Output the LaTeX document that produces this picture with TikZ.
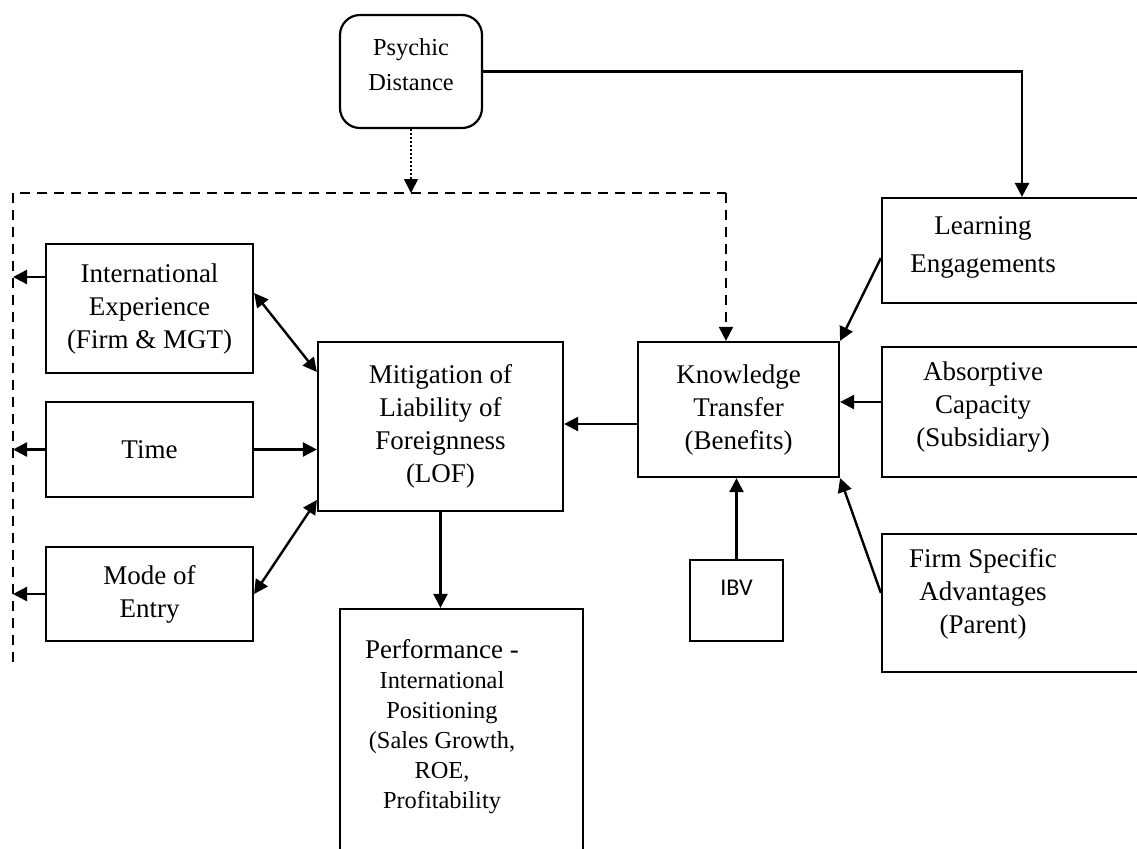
\documentclass[tikz,border=0pt]{standalone}
\usepackage{fontspec}
\setmainfont{Liberation Serif}
\newfontfamily\ibvfont{Carlito}
\usetikzlibrary{arrows.meta}
\tikzstyle{box} = [rectangle, draw, line width=1.1pt, align=center,
    font=\fontsize{13.5}{16.5}\selectfont]
\tikzstyle{leftbox} = [box, minimum width=103.5pt]
\tikzstyle{sidebox} = [box, minimum width=140pt]
\tikzstyle{roundbox} = [rectangle, draw, rounded corners=10pt, line width=1.1pt,
    minimum width=71pt, minimum height=56.5pt]
\tikzstyle{lbl} = [align=center, font=\fontsize{13.5}{16.5}\selectfont]
\tikzstyle{line} = [draw, line width=1.2pt, -{Triangle[length=7pt,width=7pt]}]
\tikzstyle{dline} = [line, {Triangle[length=7pt,width=7pt]}-{Triangle[length=7pt,width=7pt]}]
\tikzstyle{dashline} = [draw, line width=1pt, dash pattern=on 5pt off 3.5pt]
\tikzstyle{dotline} = [line, line width=0.9pt, dash pattern=on 0.8pt off 1.2pt]

\begin{document}
\begin{tikzpicture}[x=0.5pt, y=-0.5pt]
    \useasboundingbox (0,0) rectangle (1137,848);
    % Place nodes
    \node [roundbox,
        label={[lbl, font=\fontsize{12.2}{17.5}\selectfont, yshift=3.5pt]center:Psychic\\Distance}] (psy) at (411,71.5) {};
    \node [leftbox, minimum height=64.5pt] (ie) at (149.5,308.5) {International\\Experience\\(Firm \& MGT)};
    \node [leftbox, minimum height=47.5pt, below of=ie, node distance=70.5pt] (time) {Time};
    \node [leftbox, minimum height=47pt, below of=time, node distance=72.25pt] (mode) {Mode of\\Entry};
    \node [box, minimum width=122.5pt, minimum height=84.5pt] (mit) at (440.5,426.5) {Mitigation of\\Liability of\\Foreignness\\(LOF)};
    \node [box, minimum width=121.5pt, minimum height=145.5pt,
        label={[lbl, font=\fontsize{12.2}{15}\selectfont, xshift=-9.75pt, yshift=13.75pt]center:{\fontsize{13.5}{15}\selectfont Performance -}\\
        International\\Positioning\\(Sales Growth,\\ROE,\\Profitability}] (perf) at (461.5,754.5) {};
    \node [box, minimum width=100.5pt, minimum height=67.5pt] (kt) at (738.5,409.5) {Knowledge\\Transfer\\(Benefits)};
    \node [box, minimum width=46.5pt, minimum height=40.5pt,
        label={[yshift=6.25pt, font=\ibvfont\fontsize{12}{14}\selectfont]center:IBV}] (ibv) at (736.5,600.5) {};
    \node [sidebox, minimum height=52.5pt,
        label={[lbl, font=\fontsize{13.5}{19}\selectfont, xshift=-19.5pt, yshift=1.75pt]center:Learning\\Engagements}] (le) at (1022,250.5) {};
    \node [sidebox, minimum height=65pt,
        label={[lbl, xshift=-19.5pt, yshift=2.5pt]center:Absorptive\\Capacity\\(Subsidiary)}] (ac) at (1022,412) {};
    \node [sidebox, minimum height=69pt,
        label={[lbl, xshift=-19.5pt, yshift=4.5pt]center:Firm Specific\\Advantages\\(Parent)}] (fsa) at (1022,603) {};

    \coordinate (dcorner) at (13,193);
    \coordinate (dend) at (13,662);
    \coordinate (dkt) at (726,193);

    % Draw edges
    \path [line] (psy.east) -| (le.north);
    \path [dotline] (psy.south) -- (psy.south |- dcorner);
    \path [dashline] (dend) -- (dcorner) -- (dkt);
    \path [line, dash pattern=on 5pt off 3.5pt, line width=1pt] (dkt) -- (dkt |- kt.north);

    \path [line] ([yshift=15.75pt]ie.west) -- ([yshift=15.75pt]ie.west -| dcorner);
    \path [line] (time.west) -- (time.west -| dcorner);
    \path [line] (mode.west) -- (mode.west -| dcorner);

    \path [dline] ([yshift=7.75pt]ie.east) -- ([yshift=27.25pt]mit.west);
    \path [line] (time.east) -- (time.east -| mit.west);
    \path [dline] (mode.east) -- ([yshift=-36.75pt]mit.west);
    \path [line] (mit.south) -- (mit.south |- perf.north);

    \path [line] ([yshift=-7.25pt]kt.west) -- ([yshift=-7.25pt]kt.west -| mit.east);
    \path [line] ([yshift=-3.75pt]le.west) -- (kt.north east);
    \path [line] ([yshift=5pt]ac.west) -- ([yshift=5pt]ac.west -| kt.east);
    \path [line] (ibv.north) -- (ibv.north |- kt.south);
    \path [line] ([yshift=5pt]fsa.west) -- (kt.south east);
\end{tikzpicture}
\end{document}
